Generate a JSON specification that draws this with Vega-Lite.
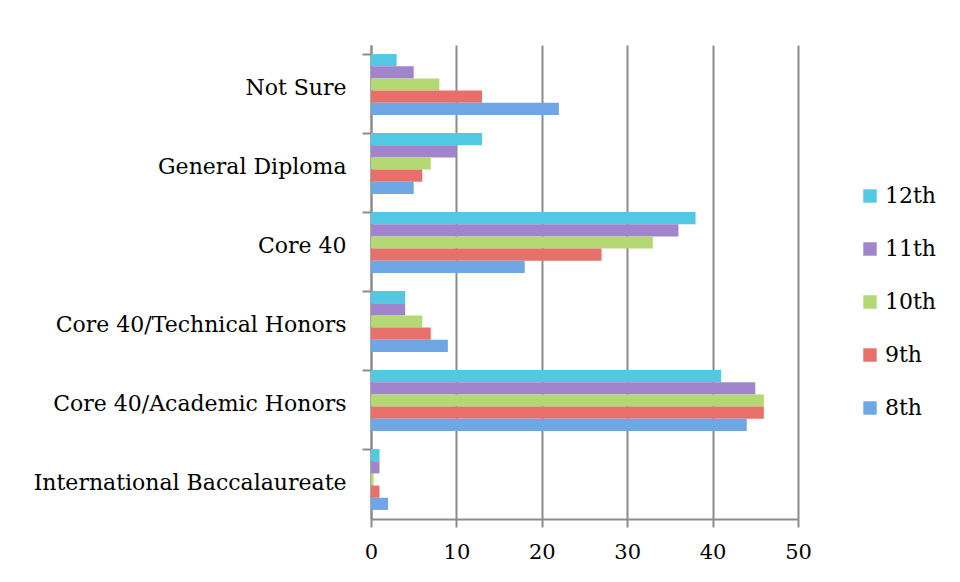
{
  "$schema": "https://vega.github.io/schema/vega-lite/v6.json",
  "width": 427,
  "height": 474,
  "autosize": {"type": "none"},
  "padding": {"left": 371, "top": 45, "right": 162, "bottom": 63},
  "background": "white",
  "config": {
    "view": {"stroke": null},
    "font": "DejaVu Serif"
  },
  "data": {
    "values": [
      {"category": "Not Sure", "grade": "12th", "value": 3},
      {"category": "Not Sure", "grade": "11th", "value": 5},
      {"category": "Not Sure", "grade": "10th", "value": 8},
      {"category": "Not Sure", "grade": "9th", "value": 13},
      {"category": "Not Sure", "grade": "8th", "value": 22},
      {"category": "General Diploma", "grade": "12th", "value": 13},
      {"category": "General Diploma", "grade": "11th", "value": 10},
      {"category": "General Diploma", "grade": "10th", "value": 7},
      {"category": "General Diploma", "grade": "9th", "value": 6},
      {"category": "General Diploma", "grade": "8th", "value": 5},
      {"category": "Core 40", "grade": "12th", "value": 38},
      {"category": "Core 40", "grade": "11th", "value": 36},
      {"category": "Core 40", "grade": "10th", "value": 33},
      {"category": "Core 40", "grade": "9th", "value": 27},
      {"category": "Core 40", "grade": "8th", "value": 18},
      {"category": "Core 40/Technical Honors", "grade": "12th", "value": 4},
      {"category": "Core 40/Technical Honors", "grade": "11th", "value": 4},
      {"category": "Core 40/Technical Honors", "grade": "10th", "value": 6},
      {"category": "Core 40/Technical Honors", "grade": "9th", "value": 7},
      {"category": "Core 40/Technical Honors", "grade": "8th", "value": 9},
      {"category": "Core 40/Academic Honors", "grade": "12th", "value": 41},
      {"category": "Core 40/Academic Honors", "grade": "11th", "value": 45},
      {"category": "Core 40/Academic Honors", "grade": "10th", "value": 46},
      {"category": "Core 40/Academic Honors", "grade": "9th", "value": 46},
      {"category": "Core 40/Academic Honors", "grade": "8th", "value": 44},
      {"category": "International Baccalaureate", "grade": "12th", "value": 1},
      {"category": "International Baccalaureate", "grade": "11th", "value": 1},
      {"category": "International Baccalaureate", "grade": "10th", "value": 0.3},
      {"category": "International Baccalaureate", "grade": "9th", "value": 1},
      {"category": "International Baccalaureate", "grade": "8th", "value": 2}
    ]
  },
  "mark": {"type": "bar", "cornerRadius": 0},
  "encoding": {
    "y": {
      "field": "category",
      "type": "nominal",
      "sort": ["Not Sure", "General Diploma", "Core 40", "Core 40/Technical Honors", "Core 40/Academic Honors", "International Baccalaureate"],
      "scale": {"paddingInner": 0.23, "paddingOuter": 0.115},
      "axis": {
        "title": null,
        "bandPosition": 0,
        "domainColor": "#8c8c8c",
        "domainWidth": 2,
        "tickColor": "#8c8c8c",
        "tickWidth": 2,
        "tickSize": 9,
        "labelFontSize": 22,
        "labelColor": "#000000",
        "labelPadding": 16,
        "labelFont": "DejaVu Serif",
        "labelLimit": 400,
        "labelOffset": 3,
        "grid": false
      }
    },
    "yOffset": {
      "field": "grade",
      "type": "nominal",
      "sort": ["12th", "11th", "10th", "9th", "8th"],
      "scale": {"paddingInner": 0, "paddingOuter": 0}
    },
    "x": {
      "field": "value",
      "type": "quantitative",
      "scale": {"domain": [0, 50], "nice": false},
      "axis": {
        "title": null,
        "values": [0, 10, 20, 30, 40, 50],
        "grid": true,
        "gridColor": "#8c8c8c",
        "gridWidth": 2,
        "gridOpacity": 1,
        "domainColor": "#8c8c8c",
        "domainWidth": 2,
        "tickColor": "#8c8c8c",
        "tickWidth": 2,
        "tickSize": 8,
        "labelFontSize": 21,
        "labelColor": "#000000",
        "labelPadding": 14,
        "labelFont": "DejaVu Serif",
        "labelFlush": false
      }
    },
    "color": {
      "field": "grade",
      "type": "nominal",
      "sort": ["12th", "11th", "10th", "9th", "8th"],
      "scale": {
        "domain": ["12th", "11th", "10th", "9th", "8th"],
        "range": ["#52c9e3", "#a185cc", "#b3d874", "#e8706a", "#6ea6e6"]
      },
      "legend": {
        "title": null,
        "orient": "none",
        "legendX": 488,
        "legendY": 140,
        "symbolType": "square",
        "symbolSize": 180,
        "symbolStrokeWidth": 0,
        "labelFontSize": 22,
        "labelFont": "DejaVu Serif",
        "labelColor": "#000000",
        "rowPadding": 31,
        "labelOffset": 4
      }
    }
  }
}
